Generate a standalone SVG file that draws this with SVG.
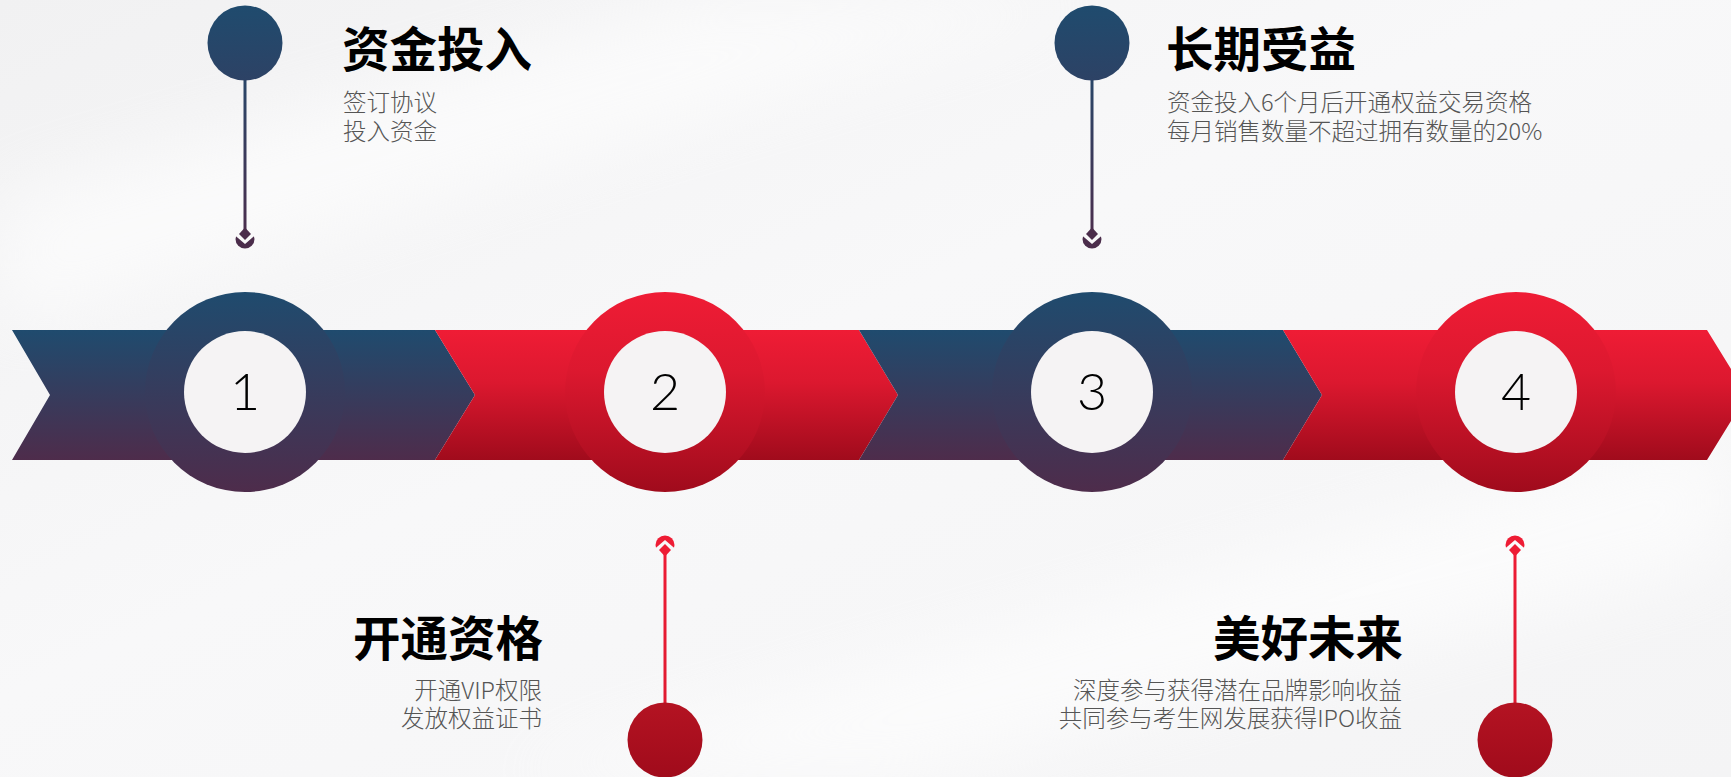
<svg xmlns="http://www.w3.org/2000/svg" width="1731" height="777" viewBox="0 0 1731 777">
  <defs>
    <linearGradient id="bgGrad" x1="0" y1="0" x2="1" y2="1">
      <stop offset="0" stop-color="#f1f1f2"/>
      <stop offset="0.45" stop-color="#f8f8f9"/>
      <stop offset="1" stop-color="#f4f4f5"/>
    </linearGradient>
    <filter id="soft" x="-20%" y="-20%" width="140%" height="140%">
      <feGaussianBlur stdDeviation="35"/>
    </filter>
    <linearGradient id="blueGrad" x1="0" y1="0" x2="0" y2="1">
      <stop offset="0" stop-color="#1f4b6e"/>
      <stop offset="1" stop-color="#4e2c4b"/>
    </linearGradient>
    <linearGradient id="redGrad" x1="0" y1="0" x2="0" y2="1">
      <stop offset="0" stop-color="#ef1c35"/>
      <stop offset="0.4" stop-color="#dc182f"/>
      <stop offset="1" stop-color="#a00b1c"/>
    </linearGradient>
    <linearGradient id="bluePin" x1="0" y1="0" x2="0" y2="1">
      <stop offset="0" stop-color="#1f4b6e"/>
      <stop offset="1" stop-color="#2d4265"/>
    </linearGradient>
    <linearGradient id="redPin" x1="0" y1="0" x2="0" y2="1">
      <stop offset="0" stop-color="#b41322"/>
      <stop offset="1" stop-color="#a00b1b"/>
    </linearGradient>
    <linearGradient id="blueLine1" gradientUnits="userSpaceOnUse" x1="0" y1="80" x2="0" y2="248">
      <stop offset="0" stop-color="#2a4668"/>
      <stop offset="1" stop-color="#4e2c4b"/>
    </linearGradient>
    <linearGradient id="redLine1" gradientUnits="userSpaceOnUse" x1="0" y1="535" x2="0" y2="703">
      <stop offset="0" stop-color="#ef1c35"/>
      <stop offset="1" stop-color="#e01a30"/>
    </linearGradient>
    <clipPath id="bowlDown"><polygon points="-14,-7 0,5 14,-7 14,14 -14,14"/></clipPath>
    <clipPath id="bowlUp"><polygon points="-14,7 0,-5 14,7 14,-14 -14,-14"/></clipPath>
    <g id="iconDown">
      <circle cx="0" cy="0" r="9.5" clip-path="url(#bowlDown)"/>
      <polygon points="0,-11.5 6,-5 0,1 -6,-5"/>
    </g>
    <g id="iconUp">
      <circle cx="0" cy="0" r="9.5" clip-path="url(#bowlUp)"/>
      <polygon points="0,11.5 6,5 0,-1 -6,5"/>
    </g>
  </defs>
  <style>
    .title { font-family: "Noto Sans CJK SC", "Noto Sans", sans-serif; font-weight: 700; font-size: 47.5px; fill: #000; }
    .sub { font-family: "Noto Sans CJK SC", "Noto Sans", sans-serif; font-weight: 300; font-size: 23.5px; fill: #555; }
    .num { font-family: "Lato", "Liberation Sans", sans-serif; font-weight: 300; font-size: 52px; fill: #000; text-anchor: middle; }
    .inner { fill: #f5f3f4; }
    .blue { fill: url(#blueGrad); }
    .red { fill: url(#redGrad); }
  </style>

  <rect x="0" y="0" width="1731" height="777" fill="url(#bgGrad)"/>
  <g filter="url(#soft)" fill="#ffffff" opacity="0.6">
    <polygon points="0,200 700,0 1100,0 0,330"/>
    <polygon points="500,777 1731,420 1731,560 900,777"/>
  </g>

  <!-- chevron band -->
  <g id="band">
    <polygon class="blue" points="12,330 435,330 475,395 435,460 12,460 50,395"/>
    <polygon class="red" points="435,330 859,330 898,395 859,460 435,460 475,395"/>
    <polygon class="blue" points="859,330 1283,330 1322,395 1283,460 859,460 898,395"/>
    <polygon class="red" points="1283,330 1707,330 1747,395 1707,460 1283,460 1322,395"/>
  </g>

  <g id="step1">
    <circle class="blue" cx="245" cy="392" r="100"/>
    <circle class="inner" cx="245" cy="392" r="61"/>
    <text class="num" x="245" y="410">1</text>
  </g>
  <g id="step2">
    <circle class="red" cx="665" cy="392" r="100"/>
    <circle class="inner" cx="665" cy="392" r="61"/>
    <text class="num" x="665" y="410">2</text>
  </g>
  <g id="step3">
    <circle class="blue" cx="1092" cy="392" r="100"/>
    <circle class="inner" cx="1092" cy="392" r="61"/>
    <text class="num" x="1092" y="410">3</text>
  </g>
  <g id="step4">
    <circle class="red" cx="1516" cy="392" r="100"/>
    <circle class="inner" cx="1516" cy="392" r="61"/>
    <text class="num" x="1516" y="410">4</text>
  </g>

  <!-- connectors: pin lines with arrow icons -->
  <g id="connectors">
    <rect x="243.5" y="78" width="3" height="152" fill="url(#blueLine1)"/>
    <use href="#iconDown" x="245" y="239" fill="#4b2d4b"/>
    <rect x="1090.5" y="78" width="3" height="152" fill="url(#blueLine1)"/>
    <use href="#iconDown" x="1092" y="239" fill="#4b2d4b"/>
    <rect x="663.5" y="554" width="3" height="152" fill="url(#redLine1)"/>
    <use href="#iconUp" x="665" y="545" fill="#ee1c34"/>
    <rect x="1513.5" y="554" width="3" height="152" fill="url(#redLine1)"/>
    <use href="#iconUp" x="1515" y="545" fill="#ee1c34"/>
  </g>

  <g id="pin1">
    <circle cx="245" cy="43" r="37.5" fill="url(#bluePin)"/>
  </g>
  <g id="pin3">
    <circle cx="1092" cy="43" r="37.5" fill="url(#bluePin)"/>
  </g>
  <g id="pin2">
    <circle cx="665" cy="740" r="37.5" fill="url(#redPin)"/>
  </g>
  <g id="pin4">
    <circle cx="1515" cy="740" r="37.5" fill="url(#redPin)"/>
  </g>

  <g id="label1">
    <text class="title" x="342" y="67">资金投入</text>
    <text class="sub" x="343" y="111">签订协议</text>
    <text class="sub" x="343" y="140">投入资金</text>
  </g>
  <g id="label3">
    <text class="title" x="1166" y="67">长期受益</text>
    <text class="sub" x="1167" y="111">资金投入6个月后开通权益交易资格</text>
    <text class="sub" x="1167" y="140">每月销售数量不超过拥有数量的20%</text>
  </g>
  <g id="label2" text-anchor="end">
    <text class="title" x="543" y="656">开通资格</text>
    <text class="sub" x="542" y="699">开通VIP权限</text>
    <text class="sub" x="542" y="727">发放权益证书</text>
  </g>
  <g id="label4" text-anchor="end">
    <text class="title" x="1403" y="656">美好未来</text>
    <text class="sub" x="1402" y="699">深度参与获得潜在品牌影响收益</text>
    <text class="sub" x="1402" y="727">共同参与考生网发展获得IPO收益</text>
  </g>
</svg>
